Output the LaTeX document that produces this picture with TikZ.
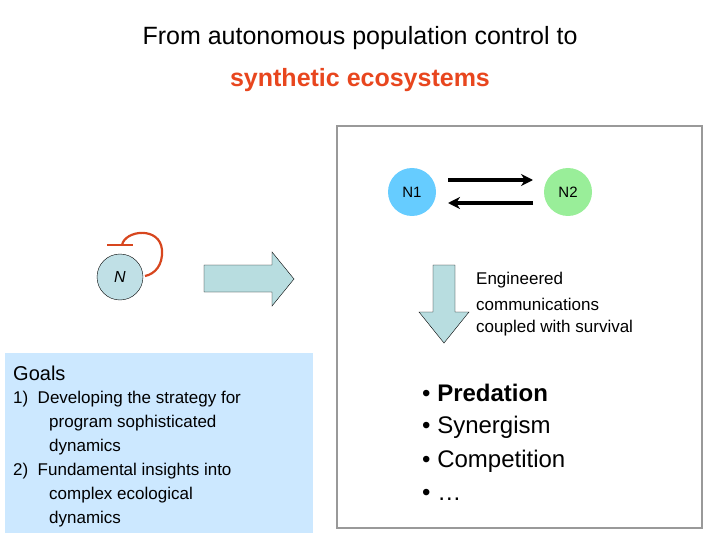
\documentclass[tikz,border=0pt]{standalone}
\usepackage{fontspec}
\usetikzlibrary{arrows.meta}
\setmainfont{Liberation Sans}
\definecolor{ttl}{HTML}{E8461E}
\definecolor{cone}{RGB}{102,204,255}
\definecolor{ctwo}{RGB}{153,238,153}
\definecolor{cn}{RGB}{192,224,230}
\definecolor{carr}{RGB}{184,221,224}
\definecolor{cgoal}{RGB}{204,232,255}
\definecolor{cred}{RGB}{215,70,30}
\begin{document}
\begin{tikzpicture}[x=1pt,y=-1pt,
  txt/.style={anchor=west,inner sep=0pt,font=\fontsize{17}{24}\selectfont},
  bul/.style={anchor=west,inner sep=0pt,font=\fontsize{24}{30}\selectfont},
  arr/.style={line width=3.5pt,-{Stealth[length=12pt,width=12pt]}}]
\useasboundingbox (0,0) rectangle (720,540);
\node (t1) at (360,38) {\fontsize{25}{30}\selectfont From autonomous population control to};
\node (t2) at (360,80) {\fontsize{25}{30}\selectfont\bfseries\color{ttl} synthetic ecosystems};
\draw[draw=gray!80,line width=2.5pt] (337,126) rectangle (702,528);
\node[circle,fill=cone,minimum size=48pt,inner sep=0pt,font=\fontsize{15}{18}\selectfont] (n1) at (412,192) {N1};
\node[circle,fill=ctwo,minimum size=48pt,inner sep=0pt,font=\fontsize{15}{18}\selectfont] (n2) at (568,192) {N2};
\draw[arr] (448,180) -- (533,180);
\draw[arr] (533,203) -- (448,203);
\node[circle,draw,fill=cn,minimum size=46pt,inner sep=0pt,font=\fontsize{16}{18}\selectfont\itshape] (n) at (120,277) {N};
\draw[cred,line width=1.5pt] (107,245) -- (133,245);
\draw[cred,line width=2.2pt] (122,245) .. controls (125,230) and (160,226) .. (162,250) .. controls (163,265) and (155,274) .. (145,276);
\draw[fill=carr] (204,265) -- (272,265) -- (272,252) -- (294,279) -- (272,306) -- (272,292) -- (204,292) -- cycle;
\draw[fill=carr] (433,265) -- (455,265) -- (455,312) -- (469,312) -- (444,343) -- (419,312) -- (433,312) -- cycle;
\node[txt] (e1) at (476,280) {Engineered};
\node[txt] (e2) at (476,304) {communications};
\node[txt] (e3) at (476,328) {coupled with survival};
\fill[cgoal] (5,353) rectangle (313,533);
\node[anchor=west,inner sep=0pt,font=\fontsize{20}{24}\selectfont] (g) at (13,373) {Goals};
\node[txt] (g1) at (13,399) {1)\ \ Developing the strategy for};
\node[txt] (g2) at (49,423) {program sophisticated};
\node[txt] (g3) at (49,447) {dynamics};
\node[txt] (g4) at (13,471) {2)\ \ Fundamental insights into};
\node[txt] (g5) at (49,495) {complex ecological};
\node[txt] (g6) at (49,519) {dynamics};
\node[bul] (b1) at (422,393) {• \textbf{Predation}};
\node[bul] (b2) at (422,427) {• Synergism};
\node[bul] (b3) at (422,461) {• Competition};
\node[bul] (b4) at (422,495) {• …};
\end{tikzpicture}
\end{document}
